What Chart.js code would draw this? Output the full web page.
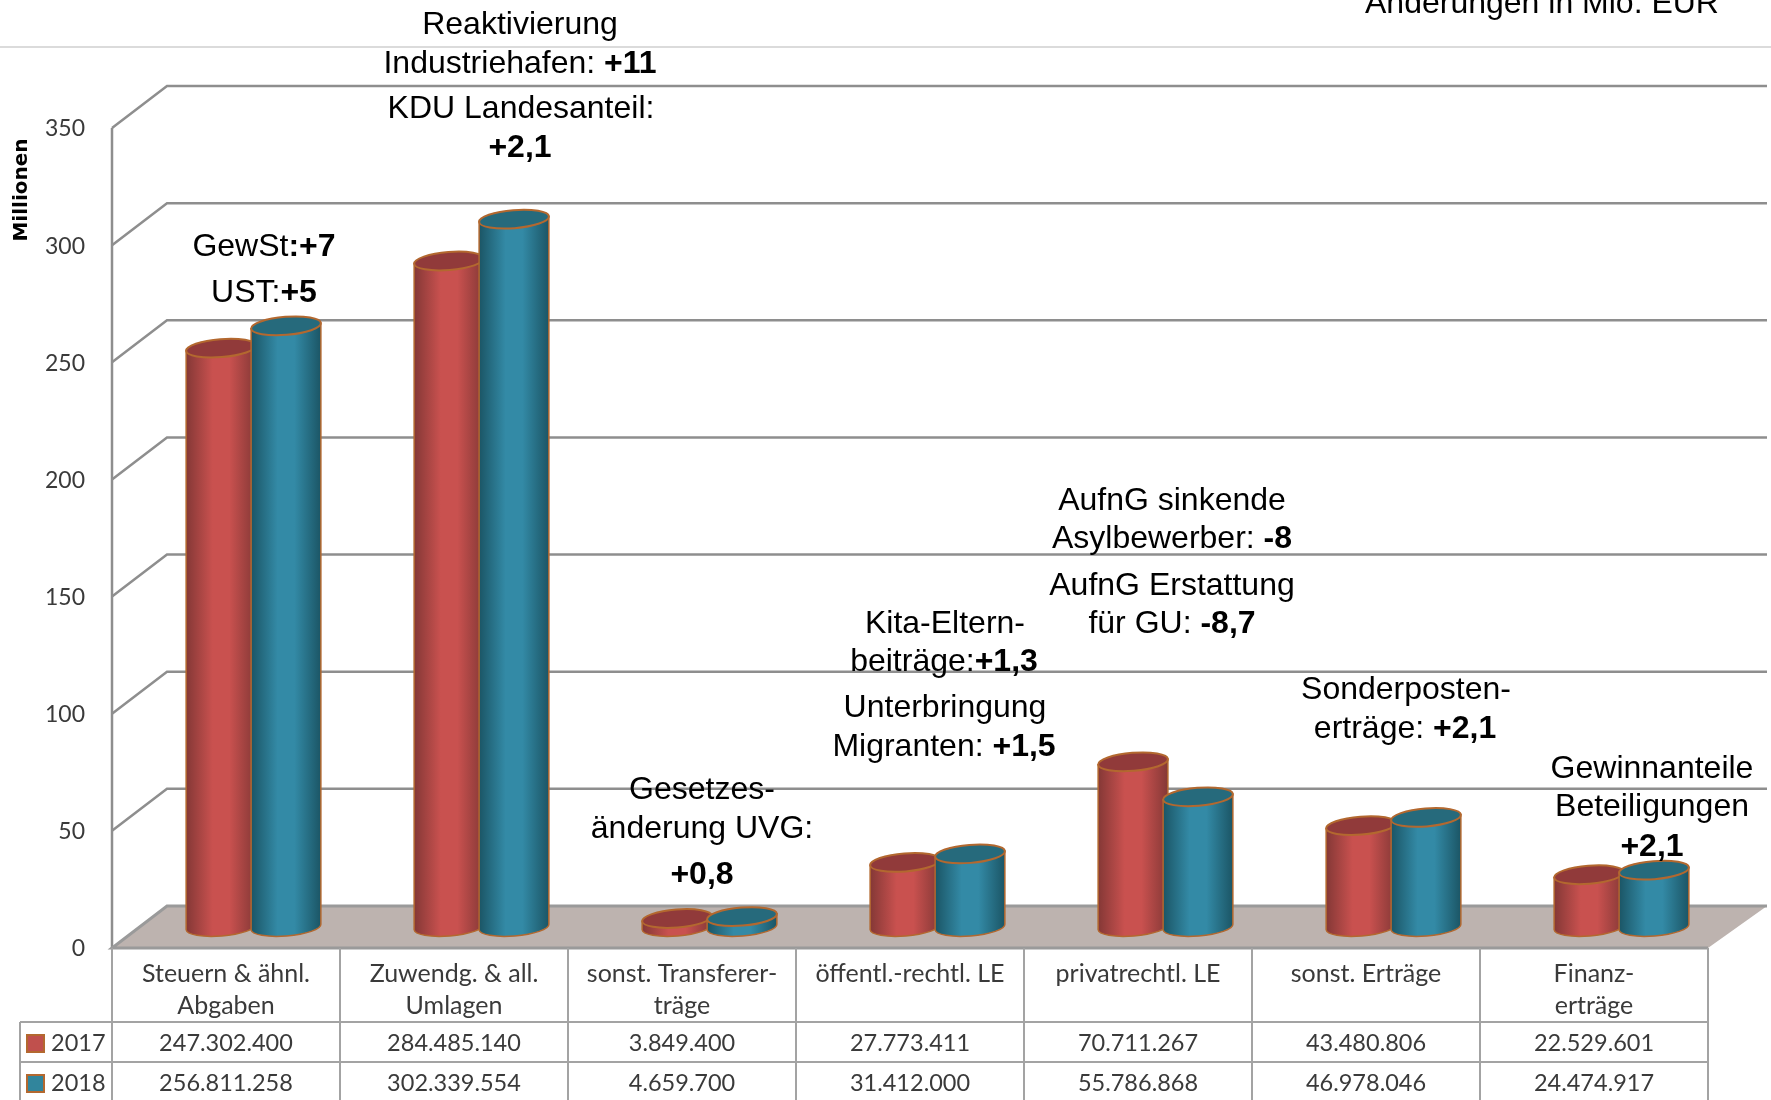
<!DOCTYPE html>
<html lang="de">
<head>
<meta charset="utf-8">
<title>Erträge 2017 / 2018</title>
<script src="https://cdn.jsdelivr.net/npm/chart.js@4"></script>
<style>
  html, body { margin: 0; padding: 0; background: #fff; overflow: hidden; }
  canvas { display: block; }
</style>
</head>
<body>
<canvas id="ertragChart" width="1771" height="1100"></canvas>
<script>
// Daten
const categories = [
    ['Steuern & ähnl.', 'Abgaben'],
    ['Zuwendg. & all.', 'Umlagen'],
    ['sonst. Transferer-', 'träge'],
    ['öffentl.-rechtl. LE', ''],
    ['privatrechtl. LE', ''],
    ['sonst. Erträge', ''],
    ['Finanz-', 'erträge']
];
const seriesNames = ['2017', '2018'];
const values2017 = [247302400, 284485140, 3849400, 27773411, 70711267, 43480806, 22529601];
const values2018 = [256811258, 302339554, 4659700, 31412000, 55786868, 46978046, 24474917];
const axisTitle = 'Millionen';
const cornerNote = 'Änderungen in Mio. EUR';
// Anmerkungen: [normal, fett]
const notes = [
    ['Reaktivierung', ''], ['Industriehafen: ', '+11'], ['KDU Landesanteil:', ''], ['', '+2,1'],
    ['GewSt', ':+7'], ['UST:', '+5'],
    ['Gesetzes-', ''], ['änderung UVG:', ''], ['', '+0,8'],
    ['Kita-Eltern-', ''], ['beiträge:', '+1,3'], ['Unterbringung', ''], ['Migranten: ', '+1,5'],
    ['AufnG sinkende', ''], ['Asylbewerber: ', '-8'], ['AufnG Erstattung', ''], ['für GU: ', '-8,7'],
    ['Sonderposten-', ''], ['erträge: ', '+2,1'],
    ['Gewinnanteile', ''], ['Beteiligungen', ''], ['', '+2,1']
];

// Layout
const FRONT = { left: 112, right: 1708, top: 128, bottom: 948 };
const DEPTH_X = 55, DEPTH_Y = 42;      // Tiefe der 3D-Wand
const MID_X = 27.5, MID_Y = 21;        // Säulen stehen in der Mitte des Bodens
const GRID = '#8e8e8e', TABLE = '#a3a3a3', TEXT = '#3a3a3a';
const CELL_FONT = '23.5px Lato';
const NOTE_SIZE = 32;
const notePos = [
    [520, 34], [520, 73], [521, 118], [520, 157],
    [264, 256], [264, 302],
    [702, 799], [702, 838], [702, 884],
    [945, 633], [944, 671], [945, 717], [944, 756],
    [1172, 510], [1172, 548], [1172, 595], [1172, 633],
    [1406, 699], [1405, 738],
    [1652, 778], [1652, 816], [1652, 856]
];
const looks = [
    { edge: '#843836', mid: '#c9514f', top: '#913a3a' },
    { edge: '#1b5565', mid: '#338aa6', top: '#266a7c' }
];

function drawWalls(chart) {
    const c = chart.ctx, y = chart.scales.y;
    c.save();
    c.strokeStyle = GRID;
    c.lineWidth = 2.5;
    // Rückwand und linke Seite
    y.ticks.forEach(t => {
        const py = y.getPixelForValue(t.value);
        if (t.value === 0) return;
        c.beginPath();
        c.moveTo(FRONT.left, py);
        c.lineTo(FRONT.left + DEPTH_X, py - DEPTH_Y);
        c.lineTo(FRONT.right + DEPTH_X + 4, py - DEPTH_Y);
        c.stroke();
    });
    c.beginPath();
    c.moveTo(FRONT.left, FRONT.top);
    c.lineTo(FRONT.left, FRONT.bottom);
    c.stroke();
    // Boden
    c.fillStyle = '#bdb3af';
    c.strokeStyle = '#9a9a9a';
    c.lineWidth = 3;
    c.beginPath();
    c.moveTo(FRONT.left, FRONT.bottom);
    c.lineTo(FRONT.left + DEPTH_X, FRONT.bottom - DEPTH_Y);
    c.lineTo(FRONT.right + DEPTH_X + 4, FRONT.bottom - DEPTH_Y);
    c.lineTo(FRONT.right, FRONT.bottom);
    c.closePath();
    c.fill();
    c.beginPath();
    c.moveTo(FRONT.right, FRONT.bottom);
    c.lineTo(FRONT.left, FRONT.bottom);
    c.lineTo(FRONT.left + DEPTH_X, FRONT.bottom - DEPTH_Y);
    c.lineTo(FRONT.right + DEPTH_X + 4, FRONT.bottom - DEPTH_Y);
    c.stroke();
    c.restore();
}

function drawCylinder(c, bar, look) {
    const x = bar.x + MID_X, top = bar.y - MID_Y + 0.5, base = bar.base - MID_Y;
    const rx = bar.width / 2, ry = 9, rot = -0.08;
    const dx = rx * Math.cos(rot), dy = rx * Math.sin(rot);
    const grad = c.createLinearGradient(x - rx, 0, x + rx, 0);
    grad.addColorStop(0, look.edge);
    grad.addColorStop(0.38, look.mid);
    grad.addColorStop(0.62, look.mid);
    grad.addColorStop(1, look.edge);
    c.strokeStyle = '#b3682f';
    c.lineWidth = 1.5;
    c.fillStyle = grad;
    c.beginPath();
    c.ellipse(x, base, rx, ry, rot, 0, Math.PI);
    c.lineTo(x - dx, top - dy);
    c.lineTo(x + dx, top + dy);
    c.closePath();
    c.fill();
    c.stroke();
    c.lineWidth = 2;
    c.fillStyle = look.top;
    c.beginPath();
    c.ellipse(x, top, rx, ry, rot, 0, Math.PI * 2);
    c.fill();
    c.stroke();
}

function drawTable(chart) {
    const c = chart.ctx, xs = chart.scales.x;
    const band = xs.width / categories.length;
    const rows = [1022, 1062, 1102];
    c.save();
    c.strokeStyle = TABLE;
    c.lineWidth = 2;
    c.beginPath();
    for (let i = 0; i <= categories.length; i++) {
        c.moveTo(xs.left + i * band, FRONT.bottom);
        c.lineTo(xs.left + i * band, rows[2]);
    }
    c.moveTo(20, rows[0]);
    c.lineTo(20, rows[2]);
    c.moveTo(20, rows[0]);
    c.lineTo(xs.right, rows[0]);
    c.moveTo(20, rows[1]);
    c.lineTo(xs.right, rows[1]);
    c.stroke();

    c.font = CELL_FONT;
    c.textBaseline = 'middle';
    chart.data.datasets.forEach((ds, r) => {
        const cy = (rows[r] + rows[r + 1]) / 2 + 1;
        c.fillStyle = ds.backgroundColor;
        c.strokeStyle = '#b3682f';
        c.fillRect(27, cy - 8, 17, 17);
        c.strokeRect(27, cy - 8, 17, 17);
        c.fillStyle = TEXT;
        c.textAlign = 'left';
        c.fillText(ds.label, 51, cy);
        c.textAlign = 'center';
        ds.data.forEach((v, i) => {
            c.fillText(v.toLocaleString('de-DE'), xs.getPixelForTick(i), cy);
        });
    });
    c.restore();
}

function drawNotes(chart) {
    const c = chart.ctx;
    c.save();
    c.fillStyle = '#000';
    c.textBaseline = 'alphabetic';
    c.textAlign = 'left';
    const plain = NOTE_SIZE + 'px "Liberation Sans"', bold = 'bold ' + plain;
    notes.forEach((n, i) => {
        c.font = plain;
        const w1 = c.measureText(n[0]).width;
        c.font = bold;
        const w2 = c.measureText(n[1]).width;
        const x = notePos[i][0] - (w1 + w2) / 2, y = notePos[i][1];
        c.font = plain;
        c.fillText(n[0], x, y);
        c.font = bold;
        c.fillText(n[1], x + w1, y);
    });
    c.font = plain;
    c.fillText(cornerNote, 1365, 13);

    // Achsentitel
    c.translate(27, 190);
    c.rotate(-Math.PI / 2);
    c.font = 'bold 20px "DejaVu Sans"';
    c.textAlign = 'center';
    c.fillText(axisTitle, 0, 0);
    c.restore();
}

const chart3d = {
    id: 'chart3d',
    beforeDatasetsDraw(chart) {
        drawWalls(chart);
        // Topline oben im Bild
        const c = chart.ctx;
        c.save();
        c.strokeStyle = '#cfcfcf';
        c.lineWidth = 1.5;
        c.beginPath();
        c.moveTo(0, 47);
        c.lineTo(chart.width, 47);
        c.stroke();
        c.restore();
    },
    beforeDatasetDraw() {
        return false; // Säulen zeichnen wir selbst
    },
    afterDatasetsDraw(chart) {
        const c = chart.ctx;
        c.save();
        categories.forEach((_, i) => {
            chart.data.datasets.forEach((ds, d) => {
                drawCylinder(c, chart.getDatasetMeta(d).data[i], looks[d]);
            });
        });
        c.restore();
    },
    afterDraw(chart) {
        drawTable(chart);
        drawNotes(chart);
    }
};

new Chart(document.getElementById('ertragChart'), {
    type: 'bar',
    plugins: [chart3d],
    data: {
        labels: categories,
        datasets: [
            { label: seriesNames[0], data: values2017, backgroundColor: '#c0504d' },
            { label: seriesNames[1], data: values2018, backgroundColor: '#31859c' }
        ]
    },
    options: {
        responsive: false,
        animation: false,
        devicePixelRatio: 1,
        categoryPercentage: 0.57,
        barPercentage: 1.077,
        layout: { padding: { left: 0, top: FRONT.top, right: 1771 - FRONT.right, bottom: 0 } },
        plugins: {
            legend: { display: false },
            tooltip: { enabled: false }
        },
        scales: {
            x: {
                grid: { display: false, drawTicks: false },
                border: { display: false },
                ticks: {
                    autoSkip: false, maxRotation: 0, padding: 10,
                    color: TEXT, font: { family: 'Lato', size: 25, lineHeight: 1.28 }
                },
                afterFit(s) { s.height = 1100 - FRONT.bottom; }
            },
            y: {
                min: 0, max: 350000000,
                grid: { display: false, drawTicks: false },
                border: { display: false },
                ticks: {
                    stepSize: 50000000, padding: 27, labelOffset: 1,
                    color: TEXT, font: { family: 'Lato', size: 23 },
                    callback: v => String(v / 1000000)
                },
                afterFit(s) { s.width = FRONT.left; }
            }
        }
    }
});
</script>
</body>
</html>
